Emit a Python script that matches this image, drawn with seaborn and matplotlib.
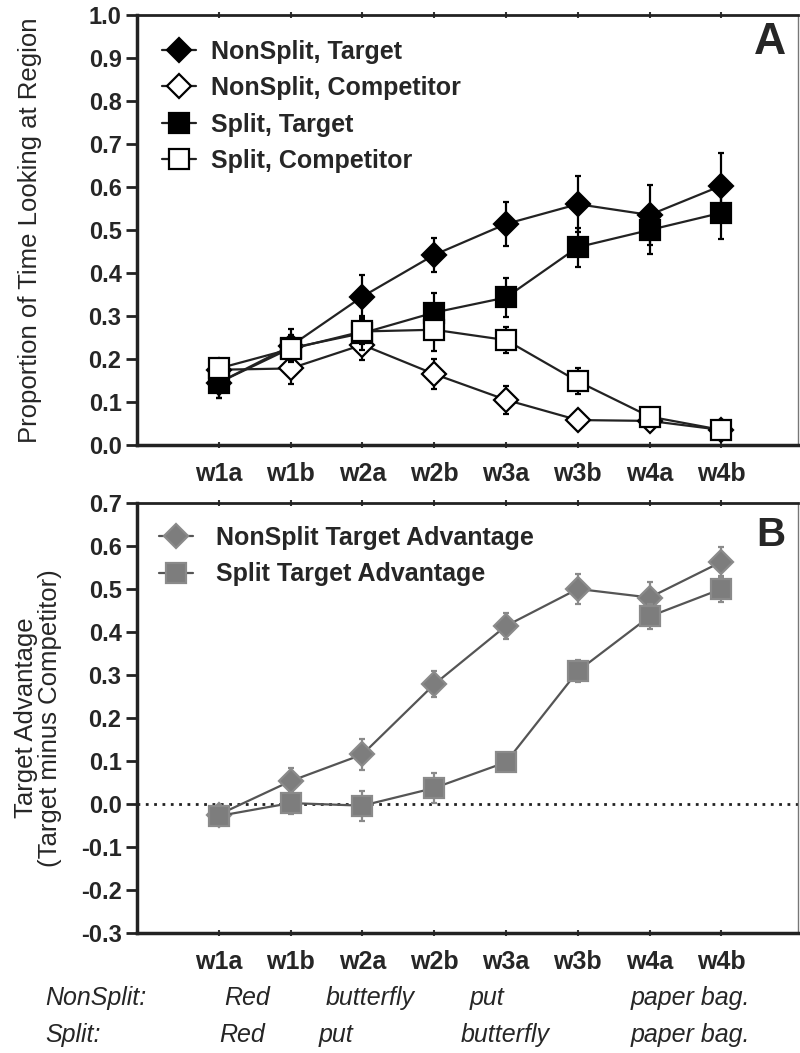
import numpy as np
import pandas as pd
import matplotlib
matplotlib.use('Agg')
import matplotlib.pyplot as plt
import seaborn as sns

# word regions on the x axis
regions = ['w1a', 'w1b', 'w2a', 'w2b', 'w3a', 'w3b', 'w4a', 'w4b']

# panel A: proportion of time looking at region
nonsplit_target = [0.145, 0.23, 0.345, 0.442, 0.514, 0.56, 0.535, 0.603]
nonsplit_target_err = [0.035, 0.04, 0.05, 0.04, 0.052, 0.065, 0.07, 0.075]
nonsplit_comp = [0.175, 0.178, 0.233, 0.165, 0.105, 0.058, 0.056, 0.035]
nonsplit_comp_err = [0.02, 0.035, 0.035, 0.035, 0.033, 0.012, 0.01, 0.008]
split_target = [0.145, 0.225, 0.26, 0.308, 0.343, 0.46, 0.5, 0.54]
split_target_err = [0.035, 0.03, 0.04, 0.046, 0.045, 0.045, 0.055, 0.06]
split_comp = [0.178, 0.223, 0.264, 0.268, 0.244, 0.148, 0.066, 0.035]
split_comp_err = [0.02, 0.03, 0.03, 0.05, 0.03, 0.03, 0.01, 0.008]

# panel B: target advantage
nonsplit_adv = [-0.025, 0.053, 0.115, 0.278, 0.414, 0.50, 0.48, 0.563]
nonsplit_adv_err = [0.02, 0.03, 0.035, 0.03, 0.03, 0.035, 0.035, 0.035]
split_adv = [-0.028, 0.002, -0.004, 0.037, 0.097, 0.309, 0.436, 0.50]
split_adv_err = [0.02, 0.025, 0.035, 0.035, 0.02, 0.025, 0.03, 0.03]

# sentence words under the x axis
nonsplit_words = ['Red', 'butterfly', 'put', 'paper bag.']
split_words = ['Red', 'put', 'butterfly', 'paper bag.']
nonsplit_word_x = [0.39, 2.10, 3.72, 7.42]
split_word_x = [0.32, 1.63, 3.97, 7.42]

sns.set_style('ticks')
plt.rcParams['font.family'] = ['Liberation Sans', 'DejaVu Sans']

xpos = np.arange(len(regions))

fig = plt.figure(figsize=(8, 10.53), dpi=100, facecolor='white')
axA = fig.add_axes([0.171, 0.5774, 0.826, 0.4084])
axB = fig.add_axes([0.171, 0.1140, 0.826, 0.4084])


def draw_series(ax, vals, errs, label, marker, ms, face, edge, line, z):
    df = pd.DataFrame({'x': xpos, 'y': vals})
    sns.lineplot(data=df, x='x', y='y', ax=ax, color=line, lw=1.6, marker=marker,
                 markersize=ms, markerfacecolor=face, markeredgecolor=edge,
                 markeredgewidth=1.6, label=label, zorder=z)
    ax.errorbar(xpos, vals, yerr=errs, fmt='none', ecolor=edge, elinewidth=1.6,
                capsize=2, capthick=1.6, zorder=z - 0.5)


def style_axes(ax, ylo, yhi):
    ax.set_xlim(-1.14, 8.06)
    ax.set_ylim(ylo, yhi)
    ticks = np.round(np.arange(ylo, yhi + 0.001, 0.1), 1)
    ax.set_yticks(ticks)
    ax.set_yticklabels([f'{v:.1f}' for v in ticks], fontsize=17, fontweight='bold')
    ax.set_xticks(xpos)
    ax.set_xticklabels(regions, fontsize=18, fontweight='bold')
    ax.tick_params(axis='y', direction='out', length=8, width=2, pad=3, color='#222')
    ax.tick_params(axis='x', direction='inout', length=4, width=1.5, pad=10,
                   top=True, color='#333')
    ax.set_xlabel('')
    for side, lw in [('left', 2.5), ('bottom', 2.5), ('top', 2.0), ('right', 1.0)]:
        ax.spines[side].set_visible(True)
        ax.spines[side].set_linewidth(lw)
        ax.spines[side].set_color('#222' if side != 'right' else '#777')


# panel A
draw_series(axA, nonsplit_target, nonsplit_target_err, 'NonSplit, Target', 'D', 12.5, 'black', 'black', '#222', 3)
draw_series(axA, nonsplit_comp, nonsplit_comp_err, 'NonSplit, Competitor', 'D', 12.5, 'white', 'black', '#222', 4)
draw_series(axA, split_target, split_target_err, 'Split, Target', 's', 15, 'black', 'black', '#222', 5)
draw_series(axA, split_comp, split_comp_err, 'Split, Competitor', 's', 15, 'white', 'black', '#222', 6)
style_axes(axA, 0.0, 1.0)
axA.set_ylabel('Proportion of Time Looking at Region', fontsize=18.5)
axA.yaxis.set_label_coords(-0.143, 0.5)
axA.legend(loc='upper left', bbox_to_anchor=(0.004, 0.995), frameon=False,
           prop={'size': 18, 'weight': 'bold'}, handlelength=1.36, handletextpad=0.6,
           labelspacing=0.5)
axA.text(0.982, 0.983, 'A', transform=axA.transAxes, ha='right', va='top',
         fontsize=32, fontweight='bold')

# panel B
axB.axhline(0, color='#222', lw=2, ls=(0, (1, 2)), zorder=1)
draw_series(axB, nonsplit_adv, nonsplit_adv_err, 'NonSplit Target Advantage', 'D', 12.5, '#7d7d7d', '#8a8a8a', '#555', 3)
draw_series(axB, split_adv, split_adv_err, 'Split Target Advantage', 's', 15, '#7d7d7d', '#8a8a8a', '#555', 4)
style_axes(axB, -0.3, 0.7)
axB.set_ylabel('Target Advantage\n(Target minus Competitor)', fontsize=18.5, linespacing=1.0)
axB.yaxis.set_label_coords(-0.113, 0.5)
axB.legend(loc='upper left', bbox_to_anchor=(0.0, 0.999), frameon=False,
           prop={'size': 18, 'weight': 'bold'}, handlelength=1.36, handletextpad=0.9,
           labelspacing=0.5)
axB.text(0.982, 0.97, 'B', transform=axB.transAxes, ha='right', va='top',
         fontsize=29, fontweight='bold')

# sentence rows
fig.text(45 / 800, 1 - 998 / 1053, 'NonSplit:', fontsize=18, style='italic', va='center')
fig.text(45 / 800, 1 - 1035 / 1053, 'Split:', fontsize=18, style='italic', va='center')
for words, wx, ypx in [(nonsplit_words, nonsplit_word_x, 998), (split_words, split_word_x, 1035)]:
    for w, x in zip(words, wx):
        xf = (219 + 72 * x) / 800
        ha = 'right' if w == 'paper bag.' else 'center'
        if ha == 'right':
            xf = 750 / 800
        fig.text(xf, 1 - ypx / 1053, w, fontsize=18, style='italic', va='center', ha=ha)

fig.savefig('out.png', dpi=100, facecolor='white')
